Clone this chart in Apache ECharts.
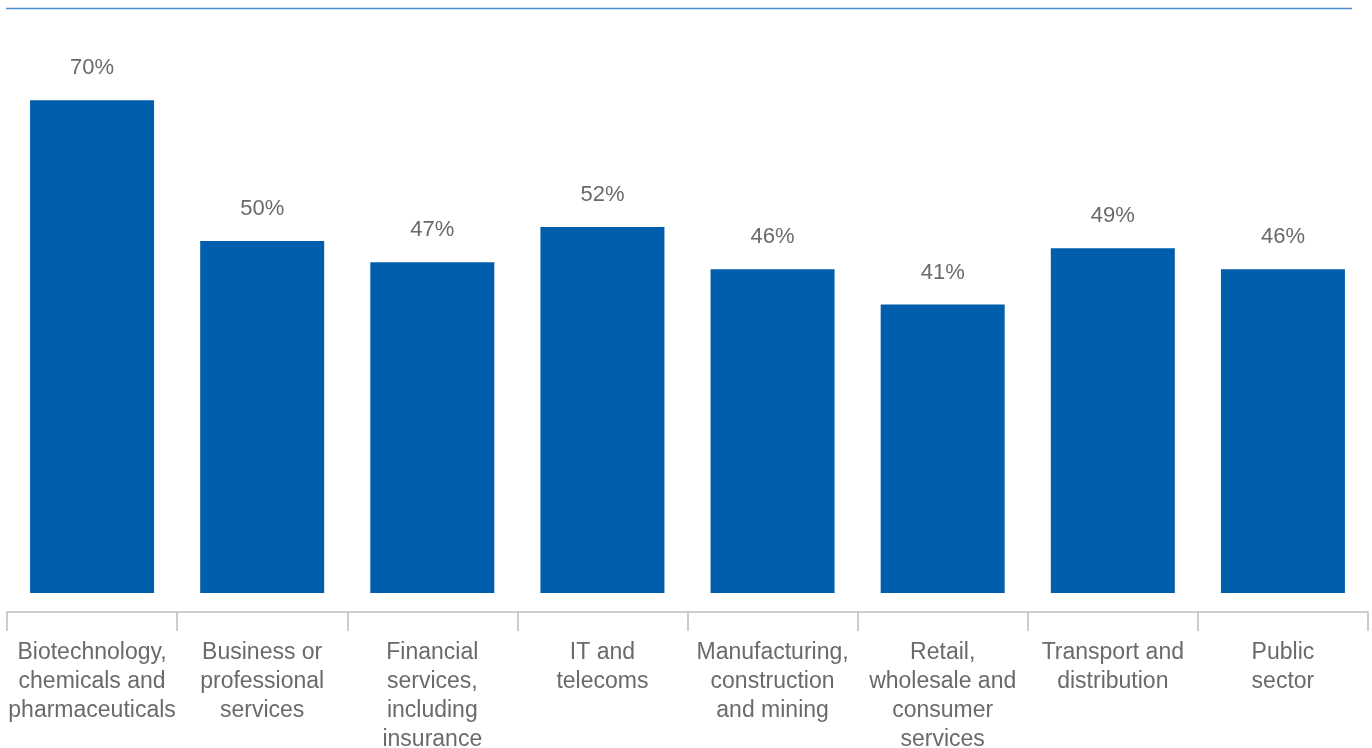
<!DOCTYPE html>
<html>
<head>
<meta charset="utf-8">
<script src="https://cdn.jsdelivr.net/npm/echarts@6/dist/echarts.min.js"></script>
<style>
  html, body { margin: 0; padding: 0; background: #ffffff; }
  #chart { width: 1372px; height: 748px; }
</style>
</head>
<body>
<div id="chart"></div>
<script>
// Sector names (tick labels) and share per sector, in percent
const categories = [
  'Biotechnology,\nchemicals and\npharmaceuticals',
  'Business or\nprofessional\nservices',
  'Financial\nservices,\nincluding\ninsurance',
  'IT and\ntelecoms',
  'Manufacturing,\nconstruction\nand mining',
  'Retail,\nwholesale and\nconsumer\nservices',
  'Transport and\ndistribution',
  'Public\nsector'
];
const shares = [70, 50, 47, 52, 46, 41, 49, 46];

const chart = echarts.init(document.getElementById('chart'), null, { renderer: 'canvas' });

const textColor = '#6a6a6a';
const fontFamily = '"Liberation Sans", Arial, Helvetica, sans-serif';

chart.setOption({
  backgroundColor: '#ffffff',
  animation: false,
  graphic: [
    {
      type: 'line',
      shape: { x1: 6, y1: 8.5, x2: 1352, y2: 8.5 },
      style: { stroke: '#4a8fd0', lineWidth: 1.5 }
    }
  ],
  // the category axis sits a little below the bar baseline (value -2.7)
  grid: { left: 7, right: 4, top: 30, bottom: 136, containLabel: false, outerBoundsMode: 'none' },
  xAxis: {
    type: 'category',
    data: categories,
    axisLine: { show: true, onZero: false, lineStyle: { color: '#bdbdbd', width: 1.5 } },
    axisTick: { show: true, length: 19, lineStyle: { color: '#bdbdbd', width: 1.5 } },
    axisLabel: {
      margin: 26,
      interval: 0,
      color: textColor,
      fontSize: 23,
      lineHeight: 29,
      fontFamily: fontFamily
    }
  },
  yAxis: {
    type: 'value',
    min: -2.7,
    max: 80,
    show: false,
    splitLine: { show: false }
  },
  series: [
    {
      type: 'bar',
      data: shares,
      barWidth: 124,
      itemStyle: { color: '#005eac' },
      label: {
        show: true,
        position: 'top',
        distance: 21,
        formatter: '{c}%',
        color: textColor,
        fontSize: 22,
        fontFamily: fontFamily
      }
    }
  ]
});
</script>
</body>
</html>
